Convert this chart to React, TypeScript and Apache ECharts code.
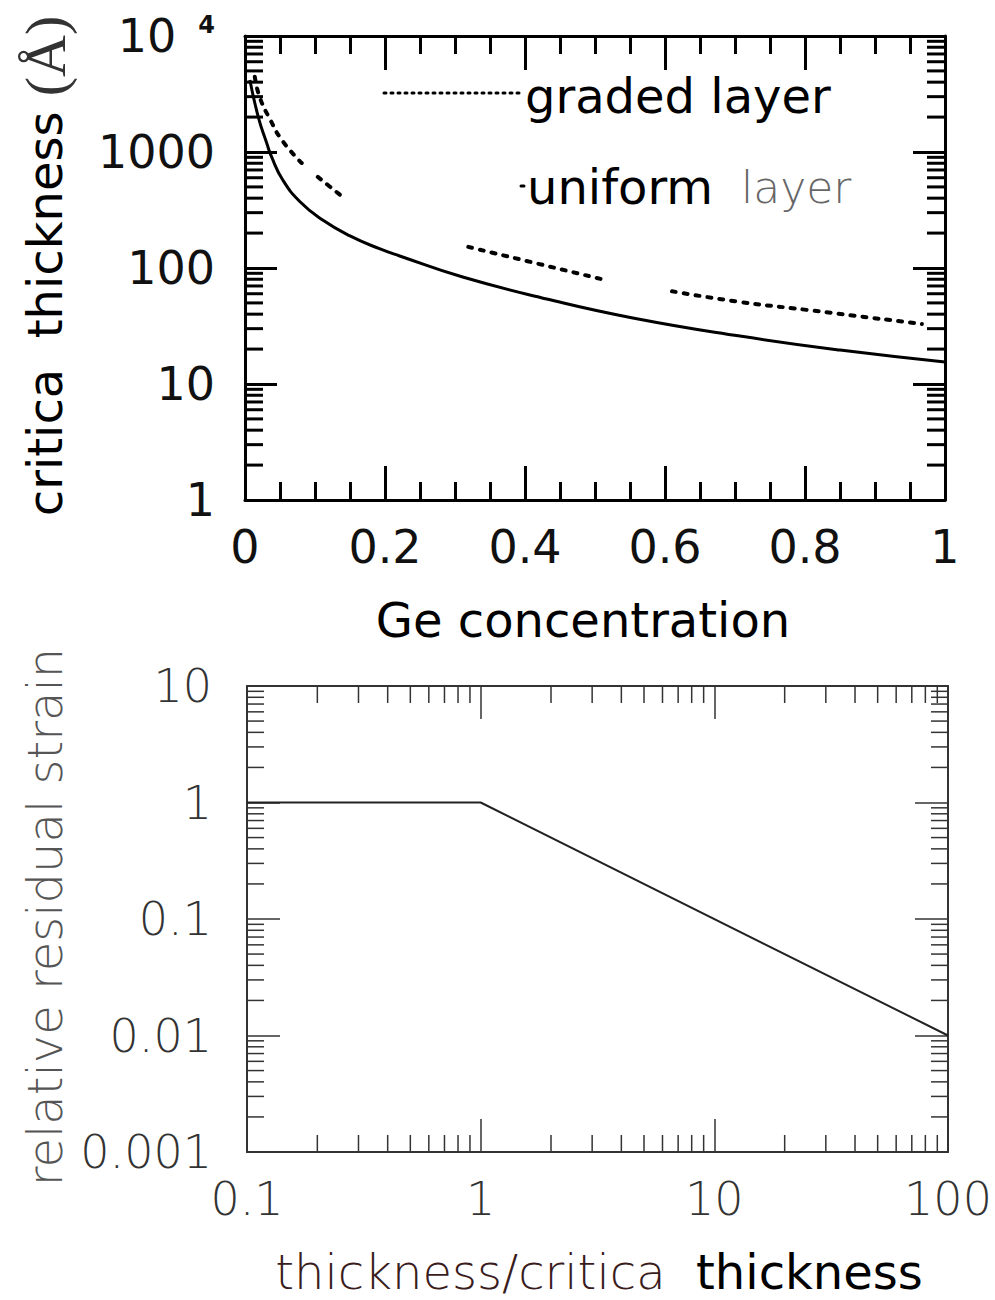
import React, { useEffect, useRef } from "react";
import * as echarts from "echarts";

// Critical thickness (Å) of SiGe layers versus Ge concentration
const uniformX = [0.007, 0.019, 0.031, 0.038, 0.054, 0.079, 0.111, 0.15, 0.193, 0.221, 0.311, 0.431, 0.554, 0.707, 0.85, 1.0];
const uniformY = [4180, 2000, 1196, 906, 574, 371, 259, 189, 146, 127, 83.6, 54.1, 37.1, 25.9, 19.6, 15.5];

// graded layer curve; null marks a break in the dotted trace
const gradedX = [0.014, 0.021, 0.036, 0.053, 0.081, 0.09, 0.104, 0.136, 0.2, 0.319, 0.41, 0.51, 0.56, 0.61, 0.707, 0.803, 0.967];
const gradedY = [4450, 2970, 1900, 1260, 804, null, 610, 426, null, 152, 112, 80, null, 63, 51, 43.5, 32.9];

// Relative residual strain versus thickness / critical thickness
const strainX = [0.1, 1, 100];
const strainY = [1, 1, 0.01];

// Axis ranges and tick labels
const geTicks = [0, 0.2, 0.4, 0.6, 0.8, 1];
const thickRange = [1, 10000];
const ratioRange = [0.1, 100];
const strainRange = [0.001, 10];

const TOP_FONT = "'DejaVu Sans', sans-serif";
const THIN_FONT = "'DejaVu Sans', sans-serif";
const THIN_WEIGHT = 200;
const SERIF_FONT = "'Liberation Serif', 'DejaVu Serif', serif";

// 2..9 x 10^k for each decade of a log range
function logMinors(lo: number, hi: number): number[] {
  const out: number[] = [];
  const k0 = Math.round(Math.log10(lo));
  const k1 = Math.round(Math.log10(hi));
  for (let k = k0; k < k1; k++) {
    for (let m = 2; m <= 9; m++) out.push(Number((m * Math.pow(10, k)).toPrecision(3)));
  }
  return out;
}

// Custom series that draws inward minor ticks on both opposite sides of a grid
function minorTickSeries(
  xAxisIndex: number,
  yAxisIndex: number,
  dir: "x" | "y",
  values: number[],
  bounds: number[],
  len: number,
  width: number,
  color: string
) {
  return {
    type: "custom",
    xAxisIndex,
    yAxisIndex,
    silent: true,
    clip: false,
    z: 5,
    data: values.map((v) => (dir === "y" ? [bounds[0], v] : [v, bounds[0]])),
    renderItem: (_params: any, api: any) => {
      const style = { stroke: color, lineWidth: width };
      if (dir === "y") {
        const v = api.value(1);
        const a = api.coord([bounds[0], v]);
        const b = api.coord([bounds[1], v]);
        return {
          type: "group",
          children: [
            { type: "line", shape: { x1: a[0], y1: a[1], x2: a[0] + len, y2: a[1] }, style },
            { type: "line", shape: { x1: b[0], y1: b[1], x2: b[0] - len, y2: b[1] }, style },
          ],
        };
      }
      const v = api.value(0);
      const a = api.coord([v, bounds[0]]);
      const b = api.coord([v, bounds[1]]);
      return {
        type: "group",
        children: [
          { type: "line", shape: { x1: a[0], y1: a[1], x2: a[0], y2: a[1] - len }, style },
          { type: "line", shape: { x1: b[0], y1: b[1], x2: b[0], y2: b[1] + len }, style },
        ],
      };
    },
  };
}

const topLine = { show: true, onZero: false, lineStyle: { color: "#000", width: 3 } };
const topTickX = { show: true, inside: true, length: 34, lineStyle: { color: "#000", width: 3 } };
const topTickY = { show: true, inside: true, length: 32, lineStyle: { color: "#000", width: 3 } };
const botLine = { show: true, onZero: false, lineStyle: { color: "#333", width: 2 } };
const botTick = { show: true, inside: true, length: 33, lineStyle: { color: "#333", width: 1.5 } };
const noSplit = { show: false };

const topLabel = { fontSize: 46, fontFamily: TOP_FONT, color: "#111" };
const thinLabel = { fontSize: 46, fontFamily: THIN_FONT, fontWeight: THIN_WEIGHT, color: "#333" };

const fmtLog = (v: number) => String(Number(v.toPrecision(3)));

const option: any = {
  animation: false,
  backgroundColor: "#fff",
  grid: [
    { left: 245, top: 36, width: 700, height: 464 },
    { left: 247, top: 686, width: 701, height: 466 },
  ],
  xAxis: [
    {
      gridIndex: 0, type: "value", position: "bottom",
      min: geTicks[0], max: geTicks[geTicks.length - 1], interval: geTicks[1] - geTicks[0],
      axisLine: topLine, axisTick: topTickX,
      minorTick: { show: true, splitNumber: 4, length: 18, lineStyle: { color: "#000", width: 3 } },
      axisLabel: { ...topLabel, margin: 24 },
      splitLine: noSplit,
    },
    {
      gridIndex: 0, type: "value", position: "top",
      min: geTicks[0], max: geTicks[geTicks.length - 1], interval: geTicks[1] - geTicks[0],
      axisLine: topLine, axisTick: topTickX,
      minorTick: { show: true, splitNumber: 4, length: 18, lineStyle: { color: "#000", width: 3 } },
      axisLabel: { show: false },
      splitLine: noSplit,
    },
    {
      gridIndex: 1, type: "log", logBase: 10, position: "bottom",
      min: ratioRange[0], max: ratioRange[1],
      axisLine: botLine, axisTick: botTick,
      axisLabel: { ...thinLabel, margin: 24, formatter: fmtLog },
      splitLine: noSplit,
    },
    {
      gridIndex: 1, type: "log", logBase: 10, position: "top",
      min: ratioRange[0], max: ratioRange[1],
      axisLine: botLine, axisTick: botTick, axisLabel: { show: false },
      splitLine: noSplit,
    },
  ],
  yAxis: [
    {
      gridIndex: 0, type: "log", logBase: 10, position: "left",
      min: thickRange[0], max: thickRange[1],
      axisLine: topLine, axisTick: topTickY,
      axisLabel: {
        ...topLabel, margin: 30,
        formatter: (v: number) => (v >= 10000 ? "{n|10}{s|4}" : fmtLog(v)),
        rich: {
          n: { fontSize: 46, fontFamily: TOP_FONT, color: "#111" },
          s: { fontSize: 24, fontFamily: TOP_FONT, fontWeight: "bold", color: "#111", verticalAlign: "top", padding: [0, 0, 0, 22] },
        },
      },
      splitLine: noSplit,
    },
    {
      gridIndex: 0, type: "log", logBase: 10, position: "right",
      min: thickRange[0], max: thickRange[1],
      axisLine: topLine, axisTick: topTickY, axisLabel: { show: false },
      splitLine: noSplit,
    },
    {
      gridIndex: 1, type: "log", logBase: 10, position: "left",
      min: strainRange[0], max: strainRange[1],
      axisLine: botLine, axisTick: botTick,
      axisLabel: { ...thinLabel, margin: 35, formatter: fmtLog },
      splitLine: noSplit,
    },
    {
      gridIndex: 1, type: "log", logBase: 10, position: "right",
      min: strainRange[0], max: strainRange[1],
      axisLine: botLine, axisTick: botTick, axisLabel: { show: false },
      splitLine: noSplit,
    },
  ],
  series: [
    minorTickSeries(0, 0, "y", logMinors(thickRange[0], thickRange[1]), [0, 1], 18, 3, "#000"),
    minorTickSeries(2, 2, "y", logMinors(strainRange[0], strainRange[1]), ratioRange, 17, 1.5, "#333"),
    minorTickSeries(2, 2, "x", logMinors(ratioRange[0], ratioRange[1]), strainRange, 17, 1.5, "#333"),
    {
      name: "uniform layer",
      type: "line", xAxisIndex: 0, yAxisIndex: 0,
      data: uniformX.map((x, i) => [x, uniformY[i]]),
      smooth: 0.5, showSymbol: false,
      lineStyle: { color: "#000", width: 3 },
      z: 3,
    },
    {
      name: "graded layer",
      type: "line", xAxisIndex: 0, yAxisIndex: 0,
      data: gradedX.map((x, i) => [x, gradedY[i] == null ? "-" : gradedY[i]]),
      smooth: 0.5, showSymbol: false, connectNulls: false,
      lineStyle: { color: "#000", width: 4, type: [4, 8], cap: "round" },
      z: 3,
    },
    {
      name: "residual strain",
      type: "line", xAxisIndex: 2, yAxisIndex: 2,
      data: strainX.map((x, i) => [x, strainY[i]]),
      showSymbol: false,
      lineStyle: { color: "#222", width: 2 },
      z: 3,
    },
  ],
  graphic: [
    {
      type: "text", x: 45, y: 266, rotation: Math.PI / 2,
      style: {
        text: "{b|critica  thickness }{s|(Å)}",
        align: "center", verticalAlign: "middle",
        rich: {
          b: { fontSize: 48, fontFamily: TOP_FONT, fill: "#000" },
          s: { fontSize: 58, fontFamily: SERIF_FONT, fill: "#333" },
        },
      },
    },
    {
      type: "text", x: 583, y: 620,
      style: { text: "Ge concentration", fontSize: 48, fontFamily: TOP_FONT, fill: "#000", align: "center", verticalAlign: "middle" },
    },
    {
      type: "line",
      shape: { x1: 384, y1: 93, x2: 522, y2: 93 },
      style: { stroke: "#000", lineWidth: 3, lineDash: [2, 5], lineCap: "round" },
    },
    {
      type: "text", x: 525, y: 96,
      style: { text: "graded layer", fontSize: 48, fontFamily: TOP_FONT, fill: "#000", align: "left", verticalAlign: "middle" },
    },
    {
      type: "line",
      shape: { x1: 521, y1: 186, x2: 524, y2: 186 },
      style: { stroke: "#000", lineWidth: 3, lineCap: "round" },
    },
    {
      type: "text", x: 527, y: 187,
      style: {
        text: "{b|uniform}{t|  layer}",
        align: "left", verticalAlign: "middle",
        rich: {
          b: { fontSize: 48, fontFamily: TOP_FONT, fill: "#000" },
          t: { fontSize: 44, fontFamily: THIN_FONT, fontWeight: THIN_WEIGHT, fill: "#666" },
        },
      },
    },
    {
      type: "text", x: 45, y: 917, rotation: Math.PI / 2,
      style: { text: "relative residual strain", fontSize: 48, fontFamily: THIN_FONT, fontWeight: THIN_WEIGHT, fill: "#555", align: "center", verticalAlign: "middle" },
    },
    {
      type: "text", x: 599, y: 1272,
      style: {
        text: "{a|thickness/critica}{b|  thickness}",
        align: "center", verticalAlign: "middle",
        rich: {
          a: { fontSize: 48, fontFamily: THIN_FONT, fontWeight: THIN_WEIGHT, fill: "#3a1c1c" },
          b: { fontSize: 48, fontFamily: TOP_FONT, fill: "#000" },
        },
      },
    },
  ],
};

export default function App() {
  const ref = useRef<HTMLDivElement>(null);
  useEffect(() => {
    document.body.style.margin = "0";
    const chart = echarts.init(ref.current!, undefined, { renderer: "svg" });
    chart.setOption(option);
    return () => chart.dispose();
  }, []);
  return <div ref={ref} style={{ width: 995, height: 1300, background: "#fff" }} />;
}
